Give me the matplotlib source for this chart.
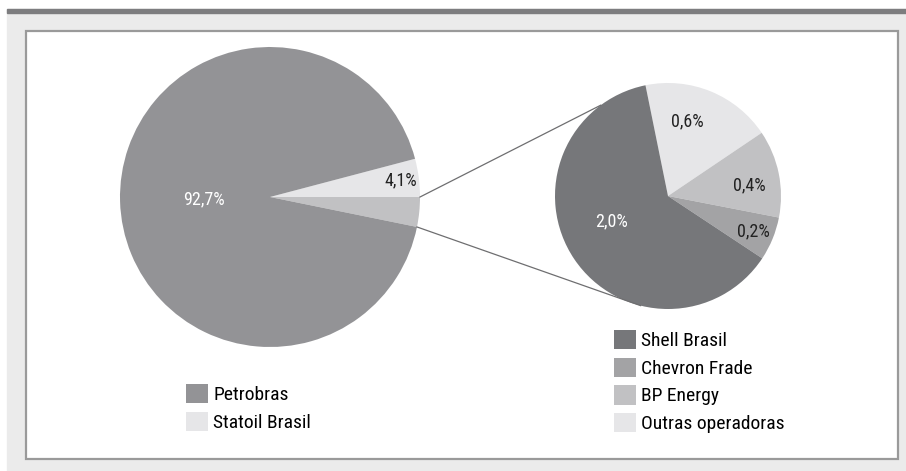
import numpy as np
import matplotlib
matplotlib.use('Agg')
import matplotlib.pyplot as plt
from matplotlib.patches import Rectangle, Patch
from matplotlib import font_manager

# main pie: operators share
main_labels = ['Statoil Brasil', 'Demais', 'Petrobras']
main_values = [4.1, 3.2, 92.7]
main_colors = ['#e6e6e8', '#c1c1c3', '#939396']

# detail pie: breakdown of the 3,2%
detail_labels = ['Outras operadoras', 'BP Energy', 'Chevron Frade', 'Shell Brasil']
detail_values = [0.6, 0.4, 0.2, 2.0]
detail_colors = ['#e6e6e8', '#c1c1c3', '#a3a3a5', '#76777a']

names = {f.name for f in font_manager.fontManager.ttflist}
family = [f for f in ['Liberation Sans Narrow', 'Roboto Condensed', 'Open Sans Condensed', 'DejaVu Sans'] if f in names]
plt.rcParams['font.family'] = family

W, H = 906, 471
fig = plt.figure(figsize=(W / 100, H / 100), dpi=100)
ax = fig.add_axes([0, 0, 1, 1])


def py(y):
    return H - y


# background panels
ax.add_patch(Rectangle((7, 0), W - 7, py(9), color='#ebebeb', zorder=0))
ax.add_patch(Rectangle((7, py(12.5)), W - 7, 3.5, color='#7d7d7f', zorder=1))
ax.add_patch(Rectangle((26, py(459)), 872, 428, facecolor='white', edgecolor='#9a9a9a', lw=1.6, zorder=1))

main_c, main_r = (270, py(197)), 150
det_c, det_r = (668, py(196)), 113


def pct(v):
    return f'{v:.1f}%'.replace('.', ',')


main_start = main_values[0] / sum(main_values) * 360
wm, _ = ax.pie(main_values, colors=main_colors, startangle=main_start, counterclock=False,
               center=main_c, radius=main_r, wedgeprops=dict(linewidth=0), frame=True)
det_start = 101.5
wd, _ = ax.pie(detail_values, colors=detail_colors, startangle=det_start, counterclock=False,
               center=det_c, radius=det_r, wedgeprops=dict(linewidth=0), frame=True)

# percentage labels
main_dist = [0.88, None, 0.44]
main_tcol = ['#222222', None, 'white']
for w, v, d, c in zip(wm, main_values, main_dist, main_tcol):
    if d is None:
        continue
    a = np.deg2rad((w.theta1 + w.theta2) / 2)
    ax.text(main_c[0] + d * main_r * np.cos(a), main_c[1] + d * main_r * np.sin(a), pct(v),
            ha='center', va='center', fontsize=13, color=c)

det_dist = [0.68, 0.73, 0.82, 0.55]
det_tcol = ['#222222', '#222222', '#222222', 'white']
det_adj = [8, -4, 0, -10]
for w, v, d, c, adj in zip(wd, detail_values, det_dist, det_tcol, det_adj):
    a = np.deg2rad((w.theta1 + w.theta2) / 2 + adj)
    ax.text(det_c[0] + d * det_r * np.cos(a), det_c[1] + d * det_r * np.sin(a), pct(v),
            ha='center', va='center', fontsize=13, color=c)

# connector lines
for a_main, a_det in [(0, 126.5), (-main_values[1] / sum(main_values) * 360, -104)]:
    am, ad = np.deg2rad(a_main), np.deg2rad(a_det)
    ax.plot([main_c[0] + main_r * np.cos(am), det_c[0] + det_r * np.cos(ad)],
            [main_c[1] + main_r * np.sin(am), det_c[1] + det_r * np.sin(ad)],
            color='#6e6e70', lw=0.9, zorder=3)

ax.set_xlim(0, W)
ax.set_ylim(0, H)
ax.set_aspect('equal')
ax.axis('off')

# legends
leg_kw = dict(frameon=False, fontsize=14, handlelength=1.15, handleheight=1.15,
              handletextpad=0.25, labelspacing=0.38, borderpad=0, borderaxespad=0,
              loc='upper left')
h1 = [Patch(facecolor=main_colors[2]), Patch(facecolor=main_colors[0])]
l1 = ax.legend(h1, [main_labels[2], main_labels[0]],
               bbox_to_anchor=(186 / W, py(384) / H), bbox_transform=fig.transFigure, **leg_kw)
ax.add_artist(l1)
order = [3, 2, 1, 0]
h2 = [Patch(facecolor=detail_colors[i]) for i in order]
ax.legend(h2, [detail_labels[i] for i in order],
          bbox_to_anchor=(614 / W, py(330) / H), bbox_transform=fig.transFigure, **leg_kw)

fig.savefig('out.png', dpi=100, facecolor='white')
